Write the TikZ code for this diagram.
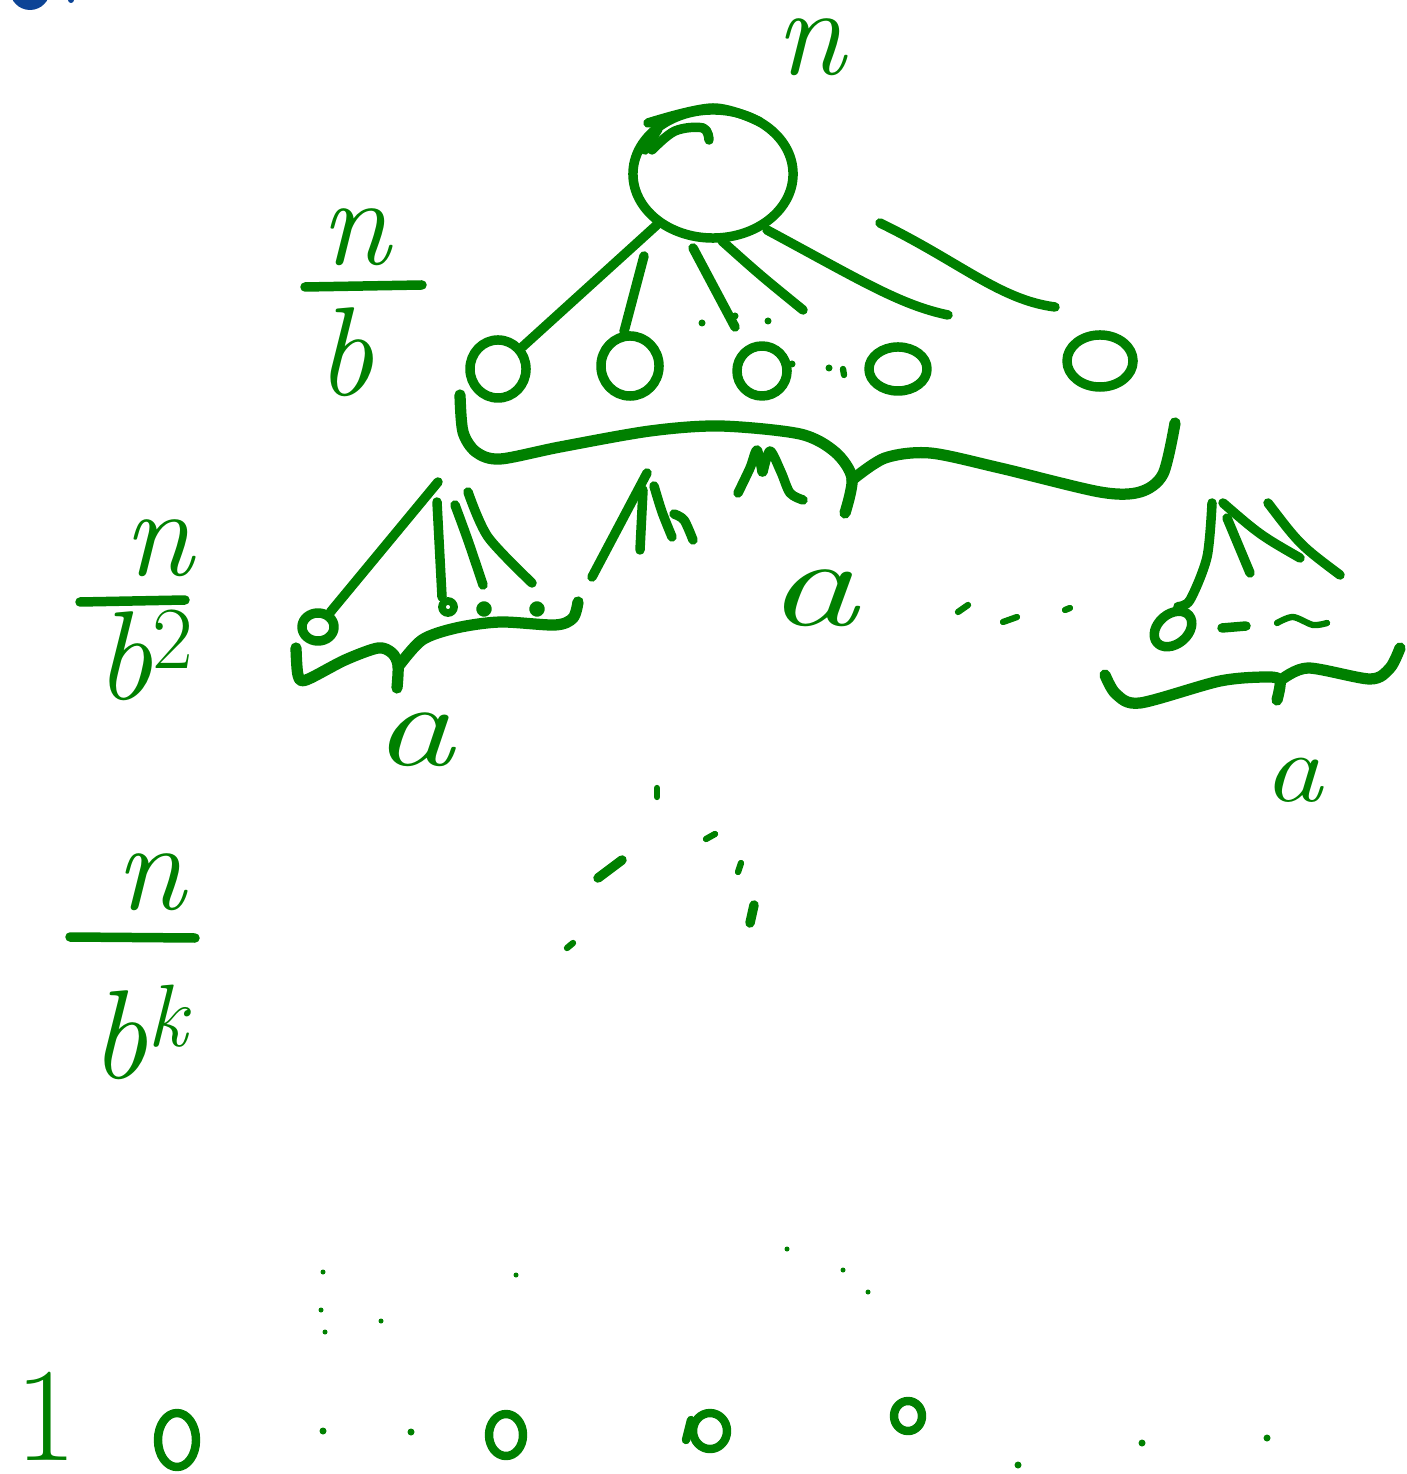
\documentclass[tikz,border=0pt]{standalone}
\usepackage{fontspec}
\usepackage{graphicx}
\usetikzlibrary{shapes.geometric}
\definecolor{inkgreen}{RGB}{0,128,0}
\definecolor{inkblue}{RGB}{12,68,150}

\begin{document}
\begin{tikzpicture}[x=0.01cm, y=-0.01cm,
  pen/.style={draw=inkgreen, line width=2.7pt, line cap=round, line join=round},
  fine pen/.style={pen, line width=1.8pt},
  brace pen/.style={pen, line width=3.2pt},
  vtx/.style={pen, ellipse, inner sep=0pt},
  lbl/.style={text=inkgreen, inner sep=0pt, font=\fontsize{36}{40}\selectfont\itshape}]
  \useasboundingbox (0,0) rectangle (1406,1474);

  % Rest oben links
  \begin{scope}
    \clip (0,0) rectangle (120,40);
    \fill[inkblue] (30,-10) circle (20);
    \fill[inkblue] (71,0) circle (3);
  \end{scope}

  % Beschriftungen links
  \node[lbl] (top) at (810,47) {n};
  \node[lbl] (nb-num) at (355,237) {n};
  \draw[pen] (305,287) -- (422,285);
  \node[lbl] (nb-den) at (345,352) {b};
  \node[lbl] (nb2-num) at (158,548) {n};
  \draw[pen] (80,602) -- (185,600);
  \node[lbl, anchor=base] (nb2-den) at (145,700) {b\textsuperscript{\upshape 2}};
  \node[lbl] (nbk-num) at (150,882) {n};
  \draw[pen] (70,937) -- (195,938);
  \node[lbl, anchor=base] (nbk-den) at (140,1078) {b\textsuperscript{k}};
  \node[lbl, font=\fontsize{38}{44}\selectfont] (one) at (46,1416) {1};

  % Wurzel
  \node[vtx, minimum width=1.6cm, minimum height=1.28cm] (root) at (713,174) {};
  \draw[pen] plot[smooth, tension=0.6] coordinates {(648,123) (713,108) (760,122)};
  \draw[pen] plot[smooth, tension=0.6] coordinates {(709,140) (703,128) (675,131) (652,150)};
  \draw[pen] (645,150) -- (658,129);

  % Ebene 1
  \node[vtx, minimum width=0.56cm, minimum height=0.58cm] (c1) at (498,369) {};
  \node[vtx, minimum width=0.58cm, minimum height=0.6cm] (c2) at (630,366) {};
  \node[vtx, minimum width=0.5cm, minimum height=0.5cm] (c3) at (762,371) {};
  \node[vtx, minimum width=0.58cm, minimum height=0.44cm] (c4) at (898,369) {};
  \node[vtx, minimum width=0.66cm, minimum height=0.52cm] (c5) at (1100,361) {};

  \draw[pen] (root) -- (c1);
  \draw[pen] (644,256) -- (c2.100);
  \draw[pen] (693,248) -- (735,327);
  \draw[pen] (722,241) .. controls (760,275) .. (803,310);
  \draw[pen] (767,230) .. controls (860,280) and (900,305) .. (948,315);
  \draw[pen] (880,223) .. controls (960,262) and (1000,300) .. (1055,307);
  \foreach \p in {(702,323),(735,316),(768,321),(792,364),(829,368)}
    \fill[inkgreen] \p circle (3.5);
  \draw[fine pen] (843,369) -- (844,375);

  % grosse Klammer
  \draw[brace pen] plot[smooth, tension=0.5] coordinates {(460,395) (463,432) (476,452) (500,459) (560,447) (650,431) (720,426) (800,434) (835,452) (852,478) (845,513)};
  \draw[brace pen] plot[smooth, tension=0.5] coordinates {(852,480) (885,458) (930,453) (1000,468) (1100,492) (1140,492) (1163,474) (1175,423)};
  \node[lbl] (a1) at (812,598) {\scalebox{1.45}[1]{a}};

  % Teilbaum links
  \node[vtx, minimum width=0.32cm, minimum height=0.28cm] (d1) at (318,627) {};
  \draw[pen] (438,482) -- (d1);
  \draw[pen] (437,502) -- (442,597);
  \draw[pen] (455,505) .. controls (468,540) .. (483,585);
  \draw[pen] plot[smooth] coordinates {(468,492) (488,537) (532,583)};
  \draw[pen, line width=2.2pt] (448,607) circle (6);
  \draw[pen, line width=2.2pt] (484,609) circle (4);
  \draw[pen, line width=2.2pt] (537,609) circle (4);
  \draw[brace pen] plot[smooth, tension=0.5] coordinates {(296,648) (298,675) (306,680) (345,660) (378,648) (392,653) (398,665) (397,688)};
  \draw[brace pen] plot[smooth, tension=0.5] coordinates {(398,667) (422,640) (456,628) (500,622) (555,625) (573,618) (578,602)};
  \node[lbl, font=\fontsize{34}{40}\selectfont\itshape] (a2) at (414,740) {\scalebox{1.35}[1]{a}};

  % Teilbaum Mitte
  \draw[pen] (647,473) -- (592,577);
  \draw[pen] (643,490) -- (640,550);
  \draw[pen] plot[smooth] coordinates {(654,486) (662,512) (672,537)};
  \draw[pen] plot[smooth] coordinates {(674,514) (684,520) (693,540)};
  \draw[pen] plot[smooth] coordinates {(738,493) (750,468) (757,450) (762,472)};
  \draw[pen] plot[smooth] coordinates {(763,472) (770,451) (781,472) (790,493) (803,500)};
  \draw[fine pen] (958,612) -- (968,605);
  \draw[fine pen] (1003,622) -- (1017,617);
  \draw[fine pen] (1065,610) -- (1070,608);

  % Teilbaum rechts
  \node[vtx, minimum width=0.42cm, minimum height=0.3cm, rotate=40] (d2) at (1173,629) {};
  \draw[pen] plot[smooth] coordinates {(1212,503) (1207,557) (1190,600) (d2.north east)};
  \draw[pen] (1227,518) -- (1250,573);
  \draw[pen] (1223,503) .. controls (1260,535) .. (1300,558);
  \draw[pen] (1268,503) .. controls (1300,545) .. (1340,575);
  \draw[pen] (1222,628) -- (1246,626);
  \draw[fine pen] plot[smooth] coordinates {(1277,623) (1293,617) (1313,625) (1327,623)};
  \draw[brace pen] plot[smooth, tension=0.5] coordinates {(1105,675) (1116,694) (1140,703) (1220,681) (1268,677) (1280,681) (1277,700)};
  \draw[brace pen] plot[smooth, tension=0.5] coordinates {(1281,680) (1308,668) (1370,679) (1390,668) (1400,648)};
  \node[lbl, font=\fontsize{28}{32}\selectfont\itshape] (a3) at (1293,780) {\scalebox{1.2}[1]{a}};

  % Punkte dazwischen
  \draw[fine pen] (657,788) -- (657,797);
  \draw[pen] (598,878) -- (622,860);
  \draw[fine pen] (706,839) -- (715,834);
  \draw[fine pen] (738,872) -- (741,863);
  \draw[pen] (750,923) -- (754,905);
  \draw[fine pen] (567,948) -- (573,943);

  % Ebene k
  \foreach \p in {(323,1272),(516,1275),(321,1310),(325,1332),(381,1321),(787,1249),(843,1270),(868,1292)}
    \fill[inkgreen] \p circle (2.5);
  \node[vtx, line width=2.4pt, minimum width=0.38cm, minimum height=0.54cm] (l1) at (177,1440) {};
  \node[vtx, line width=2.4pt, minimum width=0.34cm, minimum height=0.42cm] (l2) at (506,1435) {};
  \node[vtx, line width=2.4pt, minimum width=0.34cm, minimum height=0.36cm] (l3) at (710,1431) {};
  \draw[pen, line width=2.4pt] (686,1440) -- (691,1420);
  \node[vtx, line width=2.4pt, minimum width=0.28cm, minimum height=0.3cm] (l4) at (908,1416) {};
  \foreach \p in {(323,1431),(411,1432),(1018,1465),(1142,1443),(1267,1438)}
    \fill[inkgreen] \p circle (3.5);
\end{tikzpicture}
\end{document}
